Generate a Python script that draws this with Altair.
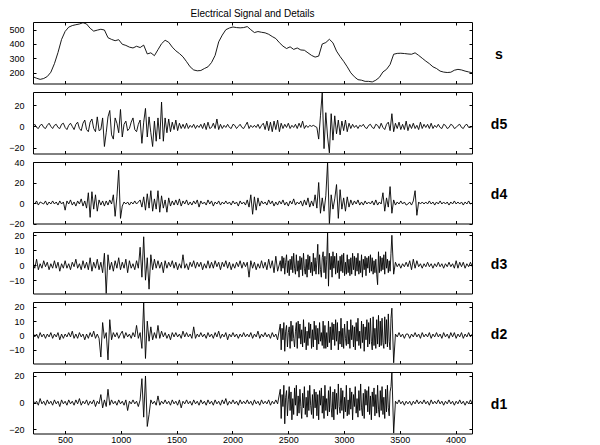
import altair as alt
import pandas as pd

FONT = "Liberation Sans"
X_DOMAIN = [213, 4147]
X_TICKS = [500, 1000, 1500, 2000, 2500, 3000, 3500, 4000]

# sample positions (signal index)
x_s = list(range(213, 4150, 32))
x_d = list(range(213, 4150, 16))
# finer sampling inside the busy stretch 2430-3430 for d1..d3
x_fine = list(range(213, 2421, 16)) + list(range(2429, 3437, 8)) + list(range(3445, 4150, 16))

s_vals = [
    170, 160, 152, 158, 172, 202, 262, 340, 432, 488,
    518, 529, 535, 540, 549, 540, 510, 490, 497, 503,
    498, 444, 432, 423, 430, 398, 390, 378, 372, 384,
    375, 392, 330, 338, 318, 360, 402, 426, 412, 378,
    352, 333, 310, 276, 240, 218, 212, 214, 228, 240,
    270, 320, 415, 462, 500, 512, 519, 515, 513, 515,
    522, 500, 480, 487, 482, 478, 468, 452, 438, 409,
    385, 368, 380, 362, 372, 358, 356, 338, 320, 308,
    315, 400, 410, 433, 408, 350, 312, 278, 240, 198,
    170, 150, 146, 138, 138, 134, 146, 166, 204, 222,
    256, 328, 334, 335, 333, 330, 328, 338, 320, 300,
    280, 262, 240, 228, 210, 203, 200, 202, 216, 222,
    218, 210, 204, 198,
]

d5_vals = [
    0, 2, -1, -2, 1, 2, -1, -2, 1, 3,
    0, -2, 1, 2, -1, -2, 2, 3, -1, -3,
    1, 3, 0, -3, 2, 4, -2, -4, 3, 6,
    -3, -5, 4, 7, -2, -5, 9, -4, -3, 8,
    -19, -6, 9, 15, -8, -12, 8, 3, -6, 16,
    -10, 2, 5, -4, -2, 4, 8, -3, -5, 2,
    6, -16, 4, 17, -10, 9, -6, -19, 5, -14,
    8, -12, 23, -14, 8, -6, 7, -5, 4, -3,
    6, -4, 3, -2, 2, -2, 3, -2, 1, -1,
    2, -2, 1, -1, 2, -2, 3, -3, 4, -2,
    -1, 3, -2, 7, -3, 2, -2, 1, -1, 2,
    -1, -2, 2, 1, -2, 0, 2, -1, -2, 1,
    4, -2, 1, -1, 1, -1, 2, -2, 1, 3,
    -3, 5, -4, 4, -5, 5, -3, 6, -5, 3,
    -2, 2, -1, 3, -2, 1, -1, 2, -2, 3,
    -1, 5, -2, 1, -1, 1, 0, 1, 0, -1,
    -12, 10, 32, -21, 13, -10, -25, 12, -13, 10,
    -7, 6, -8, 5, -4, 6, -5, 3, -2, 2,
    -1, 1, -2, 1, 0, 2, -1, -2, 1, 2,
    -1, -2, 2, 1, -2, 3, -1, -3, 2, 4,
    -4, 12, -5, 3, -2, 4, -3, 2, -3, 5,
    -4, 2, -2, 3, -2, 1, -3, 4, -2, 2,
    -1, 2, -2, 3, -2, 1, -1, 2, -1, -2,
    2, 1, -2, -1, 2, 1, -2, -1, 1, 2,
    -1, -2, 1, 2, -1, -1, 0,
]

d4_vals = [
    1, -1, 2, -2, 1, 0, -1, 2, -2, 1,
    -1, 2, -1, 1, -2, 2, -1, 1, -7, 2,
    -1, 3, -2, 1, -3, 2, -1, 4, -3, 2,
    -5, 10, -14, 11, -6, 8, -8, 3, -2, 2,
    -3, 2, -2, 3, -1, 8, -13, 6, 32, -15,
    -3, 1, -1, 1, -2, 1, -1, 2, -1, 1,
    3, -4, 6, -7, 9, -5, 12, -8, 4, -6,
    12, -9, 7, -5, 3, -9, 5, -3, 2, -2,
    3, -2, 4, -3, 2, -1, 3, -2, 1, -2,
    2, -1, 3, -4, 2, -1, 1, -2, 3, -1,
    2, -3, 1, -1, 2, -2, 1, -1, 2, -1,
    1, -2, 2, -1, 1, -3, 2, -1, 1, -2,
    3, -4, 8, -11, 6, -7, 5, -3, 2, -1,
    1, -2, 3, -1, 2, -3, 1, -2, 2, -1,
    3, -2, 1, -3, 2, -1, 4, -2, 1, -1,
    2, -3, 3, -2, 5, -4, 2, -3, 8, -5,
    20, -10, 5, -8, 7, 40, -21, 8, -6, 4,
    18, -15, 13, -6, 5, -8, 6, -4, 3, -2,
    2, -1, 3, -2, 1, -2, 2, -1, 1, -1,
    2, -2, 3, -2, 1, -1, 10, -8, 5, -4,
    16, -10, 3, -2, 1, -1, 2, -1, 1, -2,
    -1, 1, -2, 2, 12, -12, 1, -1, 1, -1,
    1, -1, 2, -1, 1, -2, 1, -1, 2, -1,
    1, -1, 1, -2, 1, -1, 2, -1, 1, -1,
    1, -2, 1, -1, 2, -1, 0,
]

# d3: quiet start / busy middle (step 8) / quiet end
d3_start = [
    2, -2, 4, -3, 1, -2, 3, -1, 2, -3,
    1, -2, 3, -2, 2, -4, 1, -2, 3, -2,
    1, -3, 2, -1, 4, -2, 1, -3, 3, -2,
    2, -3, 5, -4, 2, -2, 4, -3, 2, -5,
    8, -19, 7, -3, 2, -4, 3, -2, 5, -3,
    2, -2, 4, -5, 3, -2, 1, -3, 3, -2,
    12, -8, 19, -10, 5, -16, 7, -3, 4, -2,
    3, -2, 2, -5, 3, -2, 2, -1, 3, -2,
    2, -3, 1, -2, 7, -2, 1, -3, 2, -1,
    3, -2, 2, -1, 2, -3, 1, -2, 3, -2,
    2, -2, 3, -1, 2, -3, 2, -1, 3, -2,
    2, -3, 1, -2, 2, -1, 3, -2, 2, -1,
    2, -8, 3, -2, 2, -3, 1, -2, 3, -2,
    2, -3, 4, -2, 3, -5, 6, -4,
]
d3_busy = [
    3, -4, 6, -2, 5, -6, 2, 7, -5, 3, -7, 4, -3, 6,
    -5, 8, -2, -6, 7, -4, 3, -8, 6, -3, 5, -7, 8, -2,
    -6, 4, -8, 7, -3, 6, -5, 2, -7, 8, -4, 5, -6, 3,
    14, -6, 7, -3, -8, 5, 9, -5, 6, -9, 4, 22, -14, 8,
    -3, 6, -8, 9, -2, 6, -6, 8, -5, 3, -9, 6, -4, 7,
    -5, 8, -7, 2, -6, 7, -5, 4, -7, 5, -6, 8, -3, 6,
    -7, 5, -4, 8, -6, 3, -5, 7, -8, 4, -3, 6, -7, 5,
    -2, 6, -5, 7, -4, 5, -6, 3, -5, 4, -6, -13, 9, -5,
    6, -4, 5, -3, 7, -6, 9, -2, 4, -5, 3, -4, 8, 20,
]
d3_end = [
    -6, 2, -1, 1, -2, 1, -1, 2,
    -1, 3, -3, 4, -2, 3, -1, 1, -2, 1,
    -1, 2, -1, 1, -2, 1, -1, 2, -1, 1,
    -2, 1, -1, 2, -1, 1, -2, 3, -2, 2,
    -1, 2, -2, 1, -1, 2, -1,
]

d2_start = [
    2, -1, 1, -2, 2, -1, 1, -2, 1, -1,
    2, -2, 1, -1, 2, -3, 1, -2, 1, -1,
    2, -1, 3, -2, 1, -2, 2, -1, 1, -3,
    1, -2, 2, -1, 3, -2, 1, -2, -15, 9,
    -2, 2, -17, 11, -3, 2, -1, 2, -2, 1,
    3, -2, 2, -1, 1, -2, 2, -1, 7, -2,
    2, -9, 23, -16, 10, -4, 6, -3, 2, -2,
    7, -2, 3, -1, 2, -2, 1, -3, 2, -1,
    2, -1, 1, -2, 3, -1, 2, -1, 1, -2,
    6, -2, 1, -1, 2, -1, 1, -2, 2, -1,
    1, -2, 2, -1, 3, -2, 1, -1, 2, -3,
    1, -1, 2, -1, 1, -2, 1, -1, 2, -1,
    1, -1, 2, -2, 1, -1, 3, -2, 1, -1,
    2, -1, 1, -2, 2, -1, 1, -3,
]
d2_busy = [
    8, -10, 5, -3, 9, -11, 3, 7, -8, 2, 6, -9, 10, -4,
    7, -2, -8, 3, 9, -9, 10, -2, 8, -6, 4, -8, 11, -5,
    6, -10, 3, -7, 9, -2, 8, -9, 4, -8, 10, -3, 7, -10,
    5, -6, 9, -4, 2, -7, 10, -9, 7, -9, 2, -8, 10, -5,
    6, -10, 9, -3, 8, -7, 11, -4, 9, -10, 3, -6, 12, -8,
    5, -9, 8, -2, -7, 10, -6, 4, -9, 11, -3, 7, -8, 6,
    -10, 9, -4, 12, -7, 3, -9, 10, -5, 8, -11, 6, -3, 11,
    -8, 9, -6, 12, -4, -10, 13, -7, 5, -9, 11, -6, 14, -8,
    10, -7, 12, -5, -9, 13, -6, 11, -8, 15, -4, -10, 12, 19,
]
d2_end = [
    -19, 1, -1, 2, -1, 1, -2, 1,
    1, -2, 1, -1, 2, -1, 1, -2, 2, -1,
    1, -1, 2, -2, 1, -1, 2, -1, 1, -2,
    2, -1, 1, -2, 2, -1, 2, -2, 1, -1,
    2, -2, 1, -1, 2, -1, 1,
]

d1_start = [
    2, -1, 1, -2, 3, -1, 1, -2, 2, -1,
    1, -2, 2, -1, 1, -3, 2, -1, 1, -2,
    2, -1, 1, -2, 2, -1, 3, -2, 1, -1,
    2, -2, 1, -1, 2, -3, 1, -1, 6, -4,
    2, -3, 10, -2, 2, -1, 1, -2, 2, -1,
    1, -2, 2, -6, 1, -1, 2, -1, 1, -3,
    2, 18, -11, 20, -18, -9, 2, -1, 1, -2,
    5, -2, 1, -1, 2, -1, 1, -2, 2, -1,
    1, -2, 2, -4, 1, -1, 2, -1, 1, -2,
    2, -1, 1, -2, 2, -1, 1, -2, 2, -1,
    1, -2, 2, -1, 1, -2, 2, -1, 3, -2,
    1, -1, 2, -1, 1, -2, 2, -1, 1, -1,
    2, -1, 1, -2, 2, -1, 1, -2, 2, -1,
    1, -1, 2, -2, 1, -1, 2, -1,
]
d1_busy = [
    10, -12, 6, -3, 13, -16, 4, 9, -10, 2, 12, -6, 8, -13,
    3, -9, 11, -2, 13, -10, 5, -8, 10, -3, -12, 7, -4, 12,
    -9, 4, -11, 9, -6, 13, -2, -9, 6, -12, 10, -4, 8, -10,
    6, -13, 9, -2, 11, -8, 5, -12, 13, -6, 3, -10, 9, -7,
    12, -4, -11, 8, -13, 10, -5, 7, -9, 14, -3, -8, 11, -6,
    9, -12, 4, -7, 13, -10, 2, -9, 11, -5, 8, -13, 6, -3,
    12, -8, 3, -11, 9, -6, 14, -4, -10, 7, -12, 10, -2, 9,
    -7, 12, -9, 5, -13, 8, -3, 11, -10, 6, -8, 13, -5, -11,
    9, -6, 12, -9, 4, -12, 10, -7, 13, -4, -10, 8, 12, 23,
]
d1_end = [
    -23, 1, -1, 2, -1, 1, -2, 1,
    -1, 1, -2, 1, -1, 2, -1, 1, -1, 2,
    -1, 1, -2, 2, -1, 1, -1, 2, -1, 1,
    -2, 1, -1, 2, -1, 1, -2, 1, -1, 2,
    -1, 1, -2, 1, -1, 2, -1,
]

PANELS = [
    ("s", x_s, s_vals, [123, 554], [200, 300, 400, 500]),
    ("d5", x_d, d5_vals, [-25.6, 32.5], [-20, 0, 20]),
    ("d4", x_d, d4_vals, [-20, 40], [-20, 0, 20, 40]),
    ("d3", x_fine, d3_start + d3_busy + d3_end, [-18.9, 22.2], [-10, 0, 10, 20]),
    ("d2", x_fine, d2_start + d2_busy + d2_end, [-19.5, 23.3], [-10, 0, 10, 20]),
    ("d1", x_fine, d1_start + d1_busy + d1_end, [-23.3, 23], [-20, 0, 20]),
]

W, H = 439, 61.5
TICK = 3


def make_panel(i, name, xs, ys, ydom, yticks):
    n = min(len(xs), len(ys))
    df = pd.DataFrame({"x": xs[:n], "y": ys[:n]})
    last = i == len(PANELS) - 1
    xscale = alt.Scale(domain=X_DOMAIN, nice=False, zero=False)
    yscale = alt.Scale(domain=ydom, nice=False, zero=False)
    common = dict(grid=False, domain=False, tickSize=TICK, offset=-TICK,
                  tickColor="black", tickWidth=1, title=None)
    line = alt.Chart(df).mark_line(color="black", strokeWidth=0.9, clip=True).encode(
        x=alt.X("x:Q", scale=xscale,
                axis=alt.Axis(values=X_TICKS, labels=last, labelPadding=2,
                              labelFontSize=9, labelFont=FONT, labelColor="black",
                              format="d", **common)),
        y=alt.Y("y:Q", scale=yscale,
                axis=alt.Axis(values=yticks, labelPadding=9, labelFontSize=9,
                              labelFont=FONT, labelColor="black", format="d",
                              **common)),
    )
    ghost = alt.Chart(df).mark_line(strokeOpacity=0).encode(
        x=alt.X("x:Q", scale=xscale,
                axis=alt.Axis(orient="top", values=X_TICKS, labels=False, **common)),
        y=alt.Y("y:Q", scale=yscale,
                axis=alt.Axis(orient="right", values=yticks, labels=False, **common)),
    )
    label = alt.Chart(pd.DataFrame({"t": [name]})).mark_text(
        font=FONT, fontSize=14, fontWeight="bold", color="black",
        align="center", baseline="alphabetic"
    ).encode(x=alt.value(466), y=alt.value(37), text="t:N")
    layer = alt.layer(line, ghost, label).resolve_axis(
        x="independent", y="independent"
    ).properties(width=W, height=H)
    if i == 0:
        layer = layer.properties(title=alt.TitleParams(
            "Electrical Signal and Details", font=FONT, fontSize=10,
            fontWeight="normal", color="black", anchor="middle",
            frame="group", offset=3))
    return layer


panels = [make_panel(i, *p) for i, p in enumerate(PANELS)]

chart = alt.vconcat(*panels, spacing=8, bounds="flush").properties(
    padding=0, background="white"
).configure_view(stroke="black", strokeWidth=1)

chart.save("out.html", embed_options={"renderer": "svg", "actions": False})
